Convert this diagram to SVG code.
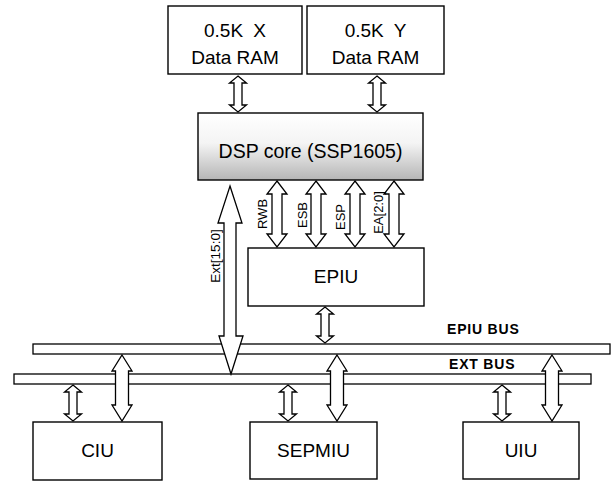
<svg xmlns="http://www.w3.org/2000/svg" width="614" height="482" viewBox="0 0 614 482">
<defs>
<linearGradient id="dspg" x1="0" y1="0" x2="0" y2="1">
<stop offset="0" stop-color="#ffffff"/>
<stop offset="0.45" stop-color="#f4f4f4"/>
<stop offset="1" stop-color="#b5b5b5"/>
</linearGradient>
<style>
.box{fill:#fff;stroke:#000;stroke-width:1.4}
.bus{fill:#fff;stroke:#000;stroke-width:1.3}
.arr{fill:#fff;stroke:#000;stroke-width:1.3;stroke-linejoin:miter}
.t{font-family:"Liberation Sans",Arial,sans-serif;font-size:19px;fill:#000;text-anchor:middle}
.s{font-family:"Liberation Sans",Arial,sans-serif;font-size:13px;fill:#000;text-anchor:middle}
.b{font-family:"Liberation Sans",Arial,sans-serif;font-size:14px;font-weight:bold;fill:#000;text-anchor:start;letter-spacing:0.8px}
</style>
</defs>
<rect width="614" height="482" fill="#fff"/>

<g id="xram"><rect class="box" x="168" y="6" width="134" height="68"/><text class="t" x="235" y="37" style="word-spacing:5px">0.5K X</text><text class="t" x="235" y="64">Data RAM</text></g>
<g id="yram"><rect class="box" x="307" y="6" width="137" height="68"/><text class="t" x="375.5" y="37" style="word-spacing:5px">0.5K Y</text><text class="t" x="375.5" y="64">Data RAM</text></g>
<g id="dsp"><rect x="198" y="113" width="225" height="67" fill="url(#dspg)" stroke="#000" stroke-width="1.4"/><text class="t" x="310.5" y="158" style="font-size:19.5px">DSP core (SSP1605)</text></g>
<g id="epiu"><rect class="box" x="248" y="248" width="176" height="58"/><text class="t" x="336" y="283">EPIU</text></g>
<g id="ciu"><rect class="box" x="33" y="422" width="129" height="58"/><text class="t" x="97.5" y="457">CIU</text></g>
<g id="sepmiu"><rect class="box" x="250" y="422" width="127" height="57"/><text class="t" x="313.5" y="457">SEPMIU</text></g>
<g id="uiu"><rect class="box" x="463" y="422" width="116" height="57"/><text class="t" x="521" y="457">UIU</text></g>

<g id="epiubus"><rect class="bus" x="33" y="344" width="577" height="10"/><text class="b" x="447" y="334">EPIU BUS</text></g>
<g id="extbus"><rect class="bus" x="14" y="374" width="577" height="10"/><text class="b" x="449" y="369">EXT BUS</text></g>

<g id="connectors">
<!-- RAM to DSP -->
<path class="arr" d="M238,76 L246.5,83 L242,83 L242,105 L246.5,105 L238,112 L229.5,105 L234,105 L234,83 L229.5,83 Z"/>
<path class="arr" d="M377,76 L385.5,83 L381,83 L381,105 L385.5,105 L377,112 L368.5,105 L373,105 L373,83 L368.5,83 Z"/>
<!-- DSP to EPIU -->
<path class="arr" d="M277,181 L287,194 L282,194 L282,234 L287,234 L277,247 L267,234 L272,234 L272,194 L267,194 Z"/>
<path class="arr" d="M316,181 L326,194 L321,194 L321,234 L326,234 L316,247 L306,234 L311,234 L311,194 L306,194 Z"/>
<path class="arr" d="M355,181 L365,194 L360,194 L360,234 L365,234 L355,247 L345,234 L350,234 L350,194 L345,194 Z"/>
<path class="arr" d="M394,181 L404,194 L399,194 L399,234 L404,234 L394,247 L384,234 L389,234 L389,194 L384,194 Z"/>
<text class="s" transform="translate(266.5,214) rotate(-90)">RWB</text>
<text class="s" transform="translate(306.5,215) rotate(-90)">ESB</text>
<text class="s" transform="translate(344.5,217) rotate(-90)">ESP</text>
<text class="s" transform="translate(382.5,212.5) rotate(-90)">EA[2:0]</text>
<!-- EPIU to EPIU bus -->
<path class="arr" d="M325,307 L333.5,314 L329,314 L329,336 L333.5,336 L325,343 L316.5,336 L321,336 L321,314 L316.5,314 Z"/>
<!-- Ext[15:0] -->
<path class="arr" d="M230,186 L242,223 L236,223 L236,336 L243,336 L231,374 L219,336 L224,336 L224,223 L218,223 Z"/>
<text class="s" transform="translate(219.5,256) rotate(-90)" style="font-size:13.5px">Ext[15:0]</text>
<!-- EXT bus to units (small) -->
<path class="arr" d="M73,385 L81.5,392 L77,392 L77,414 L81.5,414 L73,421 L64.5,414 L69,414 L69,392 L64.5,392 Z"/>
<path class="arr" d="M288,385 L296.5,392 L292,392 L292,414 L296.5,414 L288,421 L279.5,414 L284,414 L284,392 L279.5,392 Z"/>
<path class="arr" d="M502,385 L510.5,392 L506,392 L506,414 L510.5,414 L502,421 L493.5,414 L498,414 L498,392 L493.5,392 Z"/>
<!-- EPIU bus to units (large) -->
<path class="arr" d="M122,355 L132,371 L128.5,371 L128.5,405 L132,405 L122,421 L112,405 L115.5,405 L115.5,371 L112,371 Z"/>
<path class="arr" d="M337,355 L347,371 L343.5,371 L343.5,405 L347,405 L337,421 L327,405 L330.5,405 L330.5,371 L327,371 Z"/>
<path class="arr" d="M552,355 L562,371 L558.5,371 L558.5,405 L562,405 L552,421 L542,405 L545.5,405 L545.5,371 L542,371 Z"/>
</g>
</svg>
